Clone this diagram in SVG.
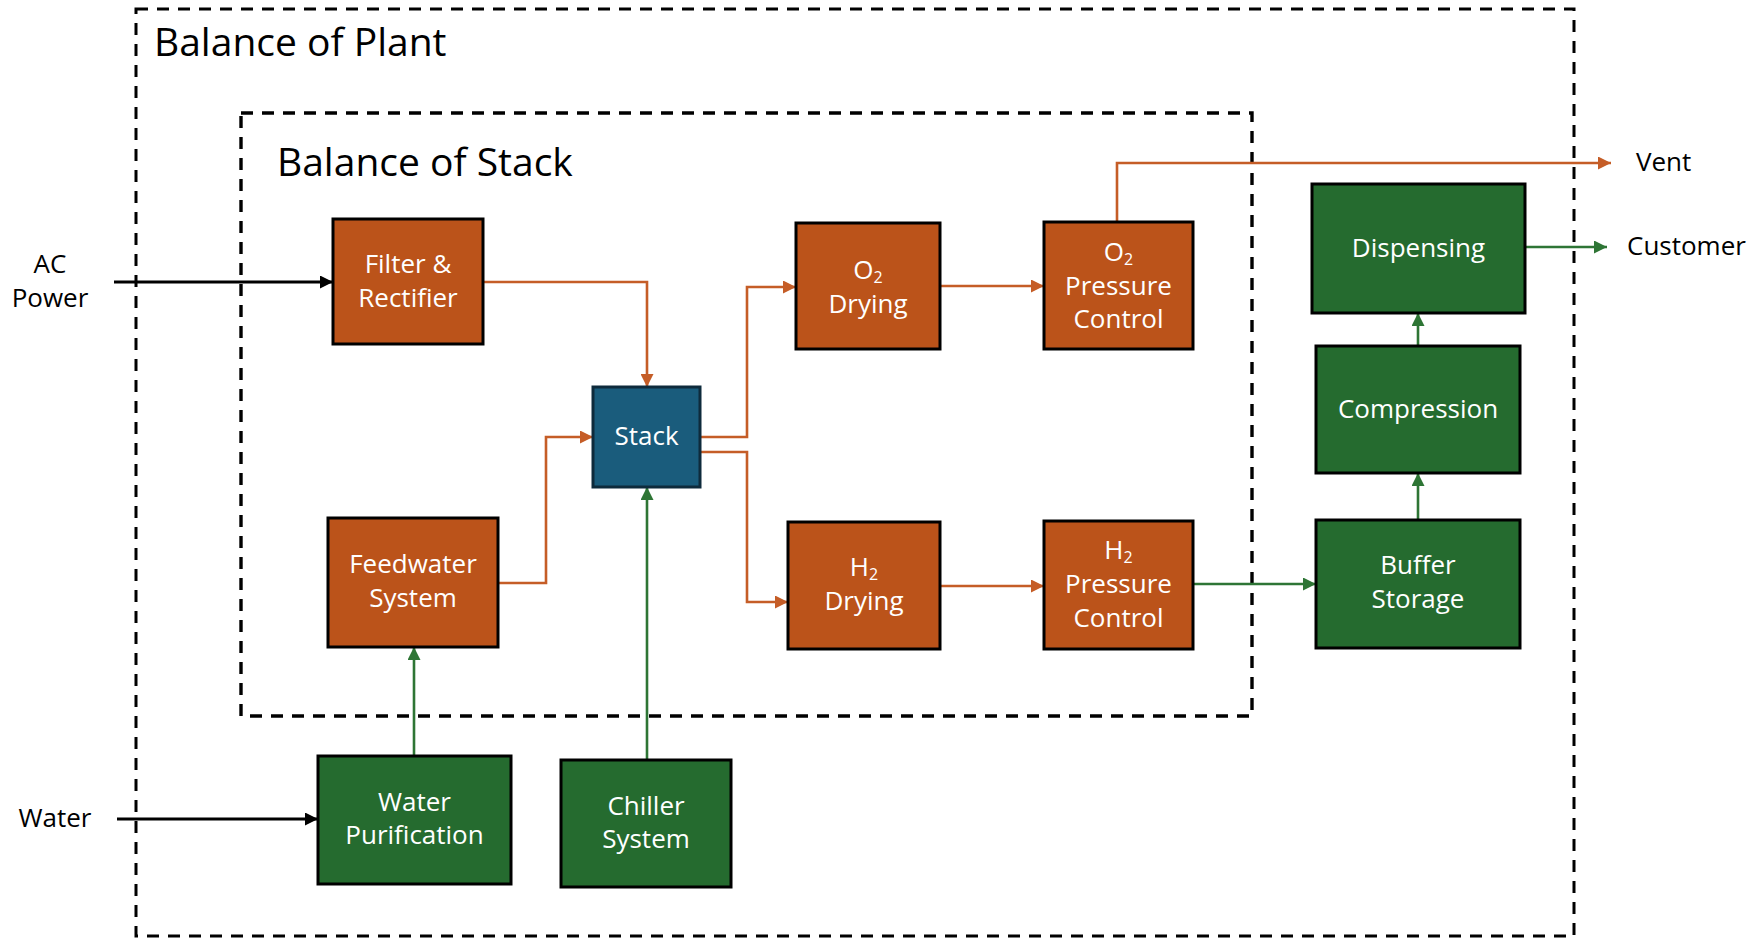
<svg xmlns="http://www.w3.org/2000/svg" width="1752" height="939" viewBox="0 0 1752 939">
<style>
  .lbl { font-family: "Open Sans", "Liberation Sans", sans-serif; font-size: 26px; fill: #000; }
  .ntx { font-family: "Open Sans", "Liberation Sans", sans-serif; font-size: 26px; fill: #fff; text-anchor: middle; }
  .ttl { font-family: "Open Sans", "Liberation Sans", sans-serif; font-size: 39px; fill: #000; }
  .sub { font-size: 16px; }
  .or { fill: #BB531A; stroke: #000; stroke-width: 3; }
  .gr { fill: #256B2F; stroke: #000; stroke-width: 3; }
  .bl { fill: #1A5C7C; stroke: #0E2B3C; stroke-width: 3; }
  .co { fill: none; stroke: #C55D27; stroke-width: 2.6; }
  .cg { fill: none; stroke: #2E7535; stroke-width: 2.6; }
  .ck { fill: none; stroke: #000; stroke-width: 3; }
</style>
<defs>
  <marker id="ao" markerUnits="userSpaceOnUse" markerWidth="13" markerHeight="13" refX="13" refY="6.5" orient="auto"><path d="M0,0 L13,6.5 L0,13 z" fill="#C55D27"/></marker>
  <marker id="ag" markerUnits="userSpaceOnUse" markerWidth="13" markerHeight="13" refX="13" refY="6.5" orient="auto"><path d="M0,0 L13,6.5 L0,13 z" fill="#2E7535"/></marker>
  <marker id="ak" markerUnits="userSpaceOnUse" markerWidth="13" markerHeight="13" refX="13" refY="6.5" orient="auto"><path d="M0,0 L13,6.5 L0,13 z" fill="#000"/></marker>
</defs>
<rect width="1752" height="939" fill="#fff"/>

<g id="balance-of-plant">
  <rect x="136" y="9" width="1438" height="927" fill="none" stroke="#000" stroke-width="3" stroke-dasharray="12 9"/>
  <text class="ttl" x="154" y="56">Balance of Plant</text>
</g>
<g id="balance-of-stack">
  <rect x="241" y="113" width="1011" height="603" fill="none" stroke="#000" stroke-width="3.4" stroke-dasharray="12 9"/>
  <text class="ttl" x="277" y="176">Balance of Stack</text>
</g>

<g id="connectors">
  <path class="ck" d="M114,282 H333" marker-end="url(#ak)"/>
  <path class="ck" d="M117,819 H318" marker-end="url(#ak)"/>
  <path class="co" d="M483,282 H647 V387" marker-end="url(#ao)"/>
  <path class="co" d="M498,583 H546 V437 H593" marker-end="url(#ao)"/>
  <path class="co" d="M700,437 H747 V287 H796" marker-end="url(#ao)"/>
  <path class="co" d="M700,452 H747 V602 H788" marker-end="url(#ao)"/>
  <path class="co" d="M940,286 H1044" marker-end="url(#ao)"/>
  <path class="co" d="M1117,222 V163 H1611" marker-end="url(#ao)"/>
  <path class="co" d="M940,586 H1044" marker-end="url(#ao)"/>
  <path class="cg" d="M1193,584 H1316" marker-end="url(#ag)"/>
  <path class="cg" d="M1418,520 V473" marker-end="url(#ag)"/>
  <path class="cg" d="M1418,346 V313" marker-end="url(#ag)"/>
  <path class="cg" d="M1525,247 H1607" marker-end="url(#ag)"/>
  <path class="cg" d="M414,756 V647" marker-end="url(#ag)"/>
  <path class="cg" d="M647,760 V487" marker-end="url(#ag)"/>
</g>

<g id="ac-power">
  <text class="lbl" x="50" y="273" text-anchor="middle">AC</text>
  <text class="lbl" x="50" y="307" text-anchor="middle">Power</text>
</g>
<g id="water">
  <text class="lbl" x="55" y="827" text-anchor="middle">Water</text>
</g>
<g id="vent">
  <text class="lbl" x="1636" y="171">Vent</text>
</g>
<g id="customer">
  <text class="lbl" x="1627" y="255">Customer</text>
</g>

<g id="filter-rectifier">
  <rect class="or" x="333" y="219" width="150" height="125"/>
  <text class="ntx" x="408" y="273">Filter &amp;</text>
  <text class="ntx" x="408" y="307">Rectifier</text>
</g>
<g id="stack">
  <rect class="bl" x="593" y="387" width="107" height="100"/>
  <text class="ntx" x="646.5" y="445">Stack</text>
</g>
<g id="o2-drying">
  <rect class="or" x="796" y="223" width="144" height="126"/>
  <text class="ntx" x="868" y="279">O<tspan class="sub" dy="4">2</tspan></text>
  <text class="ntx" x="868" y="313">Drying</text>
</g>
<g id="o2-pressure-control">
  <rect class="or" x="1044" y="222" width="149" height="127"/>
  <text class="ntx" x="1118.5" y="261">O<tspan class="sub" dy="4">2</tspan></text>
  <text class="ntx" x="1118.5" y="295">Pressure</text>
  <text class="ntx" x="1118.5" y="328">Control</text>
</g>
<g id="dispensing">
  <rect class="gr" x="1312" y="184" width="213" height="129"/>
  <text class="ntx" x="1418.5" y="257">Dispensing</text>
</g>
<g id="compression">
  <rect class="gr" x="1316" y="346" width="204" height="127"/>
  <text class="ntx" x="1418" y="418">Compression</text>
</g>
<g id="buffer-storage">
  <rect class="gr" x="1316" y="520" width="204" height="128"/>
  <text class="ntx" x="1418" y="574">Buffer</text>
  <text class="ntx" x="1418" y="608">Storage</text>
</g>
<g id="h2-pressure-control">
  <rect class="or" x="1044" y="521" width="149" height="128"/>
  <text class="ntx" x="1118.5" y="559">H<tspan class="sub" dy="4">2</tspan></text>
  <text class="ntx" x="1118.5" y="593">Pressure</text>
  <text class="ntx" x="1118.5" y="627">Control</text>
</g>
<g id="h2-drying">
  <rect class="or" x="788" y="522" width="152" height="127"/>
  <text class="ntx" x="864" y="576">H<tspan class="sub" dy="4">2</tspan></text>
  <text class="ntx" x="864" y="610">Drying</text>
</g>
<g id="feedwater-system">
  <rect class="or" x="328" y="518" width="170" height="129"/>
  <text class="ntx" x="413" y="573">Feedwater</text>
  <text class="ntx" x="413" y="607">System</text>
</g>
<g id="water-purification">
  <rect class="gr" x="318" y="756" width="193" height="128"/>
  <text class="ntx" x="414.5" y="811">Water</text>
  <text class="ntx" x="414.5" y="844">Purification</text>
</g>
<g id="chiller-system">
  <rect class="gr" x="561" y="760" width="170" height="127"/>
  <text class="ntx" x="646" y="815">Chiller</text>
  <text class="ntx" x="646" y="848">System</text>
</g>
</svg>
